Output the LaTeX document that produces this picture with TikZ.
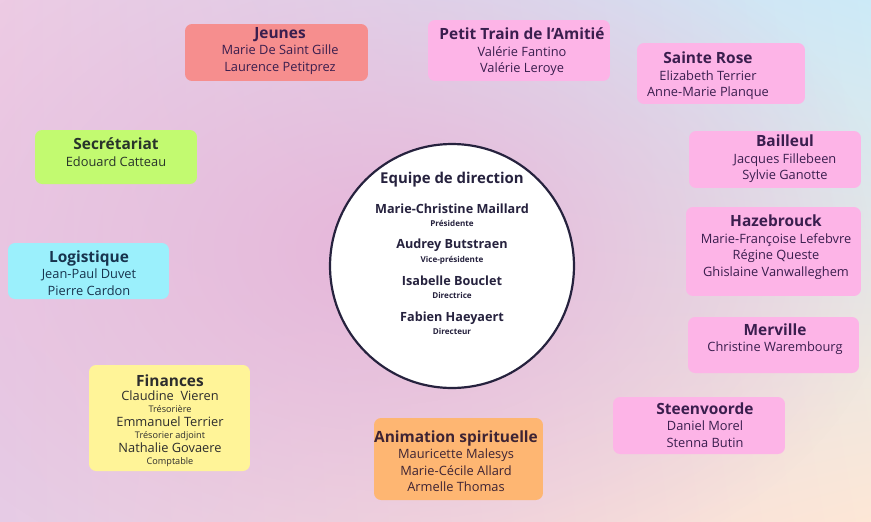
\documentclass[tikz,border=0pt]{standalone}
\usepackage{fontspec}
\setmainfont{Open Sans}
\usetikzlibrary{fadings,shadings}

\definecolor{bgul}{RGB}{237,203,228}
\definecolor{bgur}{RGB}{204,234,247}
\definecolor{bgll}{RGB}{230,203,229}
\definecolor{bglr}{RGB}{253,231,214}
\definecolor{bgmid}{RGB}{230,182,218}
\definecolor{pinkbox}{RGB}{253,180,231}
\definecolor{salmon}{RGB}{246,142,142}
\definecolor{lime}{RGB}{194,250,112}
\definecolor{cyanbox}{RGB}{155,240,252}
\definecolor{yellowbox}{RGB}{255,244,152}
\definecolor{orangebox}{RGB}{254,182,114}
\definecolor{plum}{RGB}{58,30,78}
\definecolor{navy}{RGB}{38,34,62}
\definecolor{leaf}{RGB}{40,52,42}
\definecolor{teal}{RGB}{24,52,78}
\definecolor{graytext}{RGB}{45,45,45}
\definecolor{brown}{RGB}{62,36,52}

\tikzfading[name=softglow,inner color=transparent!0,outer color=transparent!100]

\newcommand{\teamtitle}[1]{{\fontsize{8.8}{10}\selectfont\bfseries #1}}
\newcommand{\teamrole}[1]{{\fontsize{5.2}{5.5}\selectfont #1}}
\newcommand{\boardrole}[1]{{\fontsize{4.6}{5}\selectfont #1}}

\begin{document}
\begin{tikzpicture}[x=0.02cm,y=-0.02cm,
    teambox/.style={rounded corners=4pt,inner sep=0pt},
    teamtext/.style={align=center,inner sep=0pt,font=\fontsize{7.3}{9.4}\selectfont},
    boardtext/.style={align=center,inner sep=0pt,text=navy,font=\fontsize{7.2}{7.6}\selectfont\bfseries}]
    % background
    \useasboundingbox (0,0) rectangle (871,521);
    \shade[upper left=bgul,upper right=bgur,lower left=bgll,lower right=bglr] (0,0) rectangle (871,521);
    \fill[bgmid,path fading=softglow] (380,250) ellipse (520 and 360);
    % direction team in the middle
    \node[circle,draw=navy,line width=1.25pt,fill=white,minimum size=4.88cm,inner sep=0pt] (board) at (452,266) {};
    \node[boardtext,font=\fontsize{8.5}{9}\selectfont\bfseries] (board-t) at (452,180) {Equipe de direction};
    \node[boardtext] (pres) at (452,215.5) {Marie-Christine Maillard\\\boardrole{Présidente}};
    \node[boardtext] (vice) at (452,251.5) {Audrey Butstraen\\\boardrole{Vice-présidente}};
    \node[boardtext] (dir1) at (452,287.5) {Isabelle Bouclet\\\boardrole{Directrice}};
    \node[boardtext] (dir2) at (452,323.5) {Fabien Haeyaert\\\boardrole{Directeur}};
    % teams, top row
    \node[teambox,fill=salmon,minimum width=3.66cm,minimum height=1.14cm] (jeunes) at (276.5,52.5) {};
    \node[teamtext,text=plum] (jeunes-t) at (280,51) {\teamtitle{Jeunes}\\Marie De Saint Gille\\Laurence Petitprez};
    \node[teambox,fill=pinkbox,minimum width=3.64cm,minimum height=1.22cm] (train) at (519,50.5) {};
    \node[teamtext,text=plum] (train-t) at (522,52) {\teamtitle{Petit Train de l‘Amitié}\\Valérie Fantino\\Valérie Leroye};
    \node[teambox,fill=pinkbox,minimum width=3.36cm,minimum height=1.22cm] (rose) at (721,73.5) {};
    \node[teamtext,text=plum] (rose-t) at (708,76) {\teamtitle{Sainte Rose}\\Elizabeth Terrier\\Anne-Marie Planque};
    % left side
    \node[teambox,fill=lime,minimum width=3.24cm,minimum height=1.08cm] (secr) at (116,157) {};
    \node[teamtext,text=leaf] (secr-t) at (116,152) {\teamtitle{Secrétariat}\\Edouard Catteau};
    \node[teambox,fill=cyanbox,minimum width=3.22cm,minimum height=1.12cm] (logi) at (88.5,271) {};
    \node[teamtext,text=teal] (logi-t) at (89,273) {\teamtitle{Logistique}\\Jean-Paul Duvet\\Pierre Cardon};
    \node[teambox,fill=yellowbox,minimum width=3.22cm,minimum height=2.12cm] (fin) at (169.5,418) {};
    \node[teamtext,text=graytext] (fin-t) at (170,421) {\teamtitle{Finances}\\[-1.5pt]Claudine\ \ Vieren\\[-2.5pt]\teamrole{Trésorière}\\[-1.5pt]Emmanuel Terrier\\[-2.5pt]\teamrole{Trésorier adjoint}\\[-1.5pt]Nathalie Govaere\\[-2.5pt]\teamrole{Comptable}};
    % bottom
    \node[teambox,fill=orangebox,minimum width=3.38cm,minimum height=1.64cm] (anim) at (458.5,459) {};
    \node[teamtext,text=brown] (anim-t) at (456,461) {\teamtitle{Animation spirituelle}\\Mauricette Malesys\\Marie-Cécile Allard\\Armelle Thomas};
    \node[teambox,fill=pinkbox,minimum width=3.44cm,minimum height=1.14cm] (steen) at (699,425.5) {};
    \node[teamtext,text=plum] (steen-t) at (705,425) {\teamtitle{Steenvoorde}\\Daniel Morel\\Stenna Butin};
    % right side
    \node[teambox,fill=pinkbox,minimum width=3.44cm,minimum height=1.14cm] (bail) at (775,159.5) {};
    \node[teamtext,text=plum] (bail-t) at (785,159) {\teamtitle{Bailleul}\\Jacques Fillebeen\\Sylvie Ganotte};
    \node[teambox,fill=pinkbox,minimum width=3.5cm,minimum height=1.78cm] (haze) at (773.5,251.5) {};
    \node[teamtext,text=plum] (haze-t) at (776,247) {\teamtitle{Hazebrouck}\\Marie-Françoise Lefebvre\\Régine Queste\\Ghislaine Vanwalleghem};
    \node[teambox,fill=pinkbox,minimum width=3.42cm,minimum height=1.12cm] (merv) at (773.5,345) {};
    \node[teamtext,text=plum] (merv-t) at (775,339) {\teamtitle{Merville}\\Christine Warembourg};
\end{tikzpicture}
\end{document}
